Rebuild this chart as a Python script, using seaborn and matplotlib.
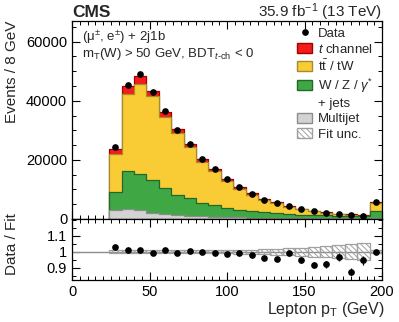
import numpy as np
import pandas as pd
import matplotlib
matplotlib.use("Agg")
import matplotlib.pyplot as plt
import seaborn as sns
from matplotlib.patches import Patch
from matplotlib.lines import Line2D
from matplotlib.ticker import MultipleLocator, FixedLocator, FormatStrFormatter

# -------------------------------------------------------------------------------------
# DATA (events per 8 GeV bin, last bin = overflow 192-200)
# -------------------------------------------------------------------------------------
EDGES = list(range(24, 201, 8))
CENTERS = np.array(EDGES[:-1]) + 4

MULTIJET = [2880, 3450, 2880, 1980, 1530, 1300, 1070, 850, 730, 620, 540,
            470, 410, 360, 310, 270, 240, 210, 190, 170, 150, 450]
WJETS = [6220, 12750, 12420, 11120, 8970, 6700, 5930, 4550, 3850, 3170, 2340,
         2180, 1790, 1620, 1330, 1140, 1060, 980, 880, 790, 700, 2200]
TTBAR = [12860, 26050, 30320, 28380, 24040, 20950, 17200, 14040, 11570, 9160, 7365,
         5630, 4260, 3425, 2475, 1820, 1375, 960, 590, 532, 293, 2770]
TCHAN = [1700, 2700, 2800, 1900, 1800, 1400, 1100, 1000, 850, 700, 580,
         470, 380, 320, 250, 200, 160, 130, 100, 85, 70, 250]
DATA = [24300, 45400, 48900, 42950, 36700, 30170, 25400, 20440, 16900, 13450, 10760,
        8550, 6580, 5450, 4320, 3250, 2600, 2100, 1700, 1380, 1150, 5650]
FIT_UNC = [0.009, 0.008, 0.008, 0.008, 0.008, 0.008, 0.009, 0.009, 0.010, 0.011, 0.012,
           0.014, 0.016, 0.018, 0.021, 0.025, 0.030, 0.036, 0.041, 0.047, 0.052, 0.010]

# (label, values, face, edge) from bottom to top of the stack
LAYERS = [
    ("Multijet", MULTIJET, "#d3d3d3", "#8c8c8c"),
    ("W / Z / $\\gamma^{*}$", WJETS, "#3fa845", "#22682a"),
    ("t$\\bar{\\mathrm{t}}$ / tW", TTBAR, "#f9cb35", "#a38c2c"),
    ("$t$ channel", TCHAN, "#f31c1c", "#a30000"),
]

# -------------------------------------------------------------------------------------
# STYLE
# -------------------------------------------------------------------------------------
sns.set_theme(style="ticks")
plt.rcParams["font.family"] = ["Liberation Sans", "DejaVu Sans"]
plt.rcParams.update({
    "mathtext.fontset": "custom",
    "mathtext.rm": "Liberation Sans",
    "mathtext.it": "Liberation Sans:italic",
    "mathtext.bf": "Liberation Sans:bold",
    "xtick.direction": "in", "ytick.direction": "in",
    "xtick.top": True, "ytick.right": True,
    "xtick.major.size": 6, "ytick.major.size": 6,
    "xtick.minor.size": 3, "ytick.minor.size": 3,
    "xtick.major.width": 0.8, "ytick.major.width": 0.8,
    "xtick.minor.width": 0.7, "ytick.minor.width": 0.7,
    "axes.linewidth": 0.9,
    "axes.edgecolor": "black",
    "xtick.color": "black", "ytick.color": "black",
    "hatch.linewidth": 0.7,
    "hatch.color": "#a0a0a0",
})

fig = plt.figure(figsize=(3.99, 3.22), dpi=100)
ax = fig.add_axes([0.1805, 0.3199, 0.777, 0.615])
rax = fig.add_axes([0.1805, 0.1304, 0.777, 0.189], sharex=ax)

# -------------------------------------------------------------------------------------
# MAIN PANEL: stacked fit templates (draw cumulative tops, largest first)
# -------------------------------------------------------------------------------------
stack = np.cumsum(np.array([l[1] for l in LAYERS], dtype=float), axis=0)
for i in range(len(LAYERS) - 1, -1, -1):
    _, _, face, edge = LAYERS[i]
    layer_df = pd.DataFrame({"pt": CENTERS, "events": stack[i]})
    sns.histplot(data=layer_df, x="pt", weights="events", bins=EDGES, element="step",
                 fill=True, color=face, edgecolor=edge, linewidth=0.9, alpha=1,
                 ax=ax, legend=False)

data = np.array(DATA, dtype=float)
total = stack[-1]
ax.errorbar(CENTERS, data, yerr=np.sqrt(data), fmt="o", color="black", ms=3.8,
            elinewidth=0.9, capsize=0, zorder=5)

ax.set_xlim(0, 200)
ax.set_ylim(0, 67000)
ax.xaxis.set_major_locator(MultipleLocator(50))
ax.xaxis.set_minor_locator(MultipleLocator(5))
ax.yaxis.set_major_locator(MultipleLocator(20000))
ax.yaxis.set_minor_locator(MultipleLocator(5000))
ax.tick_params(labelbottom=False, labelsize=10.5)
ax.set_xlabel("")
ax.set_ylabel("Events / 8 GeV", fontsize=11, loc="top")
ax.yaxis.set_label_coords(-0.171, 1.0)

ax.text(0.032, 0.962, "(μ$^{\\pm}$, e$^{\\pm}$) + 2j1b", transform=ax.transAxes,
        fontsize=9.5, va="top")
ax.text(0.032, 0.872, "m$_{\\mathrm{T}}$(W) > 50 GeV, BDT$_{t\\text{-ch}}$ < 0",
        transform=ax.transAxes, fontsize=9.5, va="top")

fig.text(0.1805, 1 - 17 / 322, "CMS", fontsize=12.5, fontweight="bold", va="baseline")
fig.text(0.957, 1 - 17 / 322, "35.9 fb$^{-1}$ (13 TeV)", fontsize=11,
         ha="right", va="baseline")

handles = [
    Line2D([], [], marker="o", color="black", ls="", ms=3.8),
    Patch(facecolor=LAYERS[3][2], edgecolor=LAYERS[3][3]),
    Patch(facecolor=LAYERS[2][2], edgecolor=LAYERS[2][3]),
    Patch(facecolor=LAYERS[1][2], edgecolor=LAYERS[1][3]),
    Patch(facecolor="none", edgecolor="none"),
    Patch(facecolor=LAYERS[0][2], edgecolor=LAYERS[0][3]),
    Patch(facecolor="white", edgecolor="#a0a0a0", hatch="\\\\\\\\\\\\"),
]
labels = ["Data", LAYERS[3][0], LAYERS[2][0], LAYERS[1][0], "+ jets",
          LAYERS[0][0], "Fit unc."]
ax.legend(handles, labels, loc="upper left", bbox_to_anchor=(0.726, 0.967),
          frameon=False, fontsize=9.5, borderpad=0, borderaxespad=0,
          handlelength=1.15, handleheight=0.8, handletextpad=0.42, labelspacing=0.2)

# -------------------------------------------------------------------------------------
# RATIO PANEL
# -------------------------------------------------------------------------------------
unc = np.array(FIT_UNC)
rax.axhline(1, color="#8c8c8c", lw=1, zorder=1)
rax.bar(CENTERS, 2 * unc, bottom=1 - unc, width=8, facecolor="none",
        edgecolor="#a0a0a0", hatch="\\\\\\\\\\\\", linewidth=0.9, zorder=2)
rax.errorbar(CENTERS, data / total, yerr=np.sqrt(data) / total, fmt="o",
             color="black", ms=3.8, elinewidth=0.9, capsize=0, zorder=5)

rax.set_ylim(0.823, 1.204)
rax.yaxis.set_major_locator(FixedLocator([0.9, 1.0, 1.1]))
rax.yaxis.set_major_formatter(FormatStrFormatter("%g"))
rax.yaxis.set_minor_locator(MultipleLocator(0.05))
rax.tick_params(labelsize=10.5)
rax.set_ylabel("Data / Fit", fontsize=11, loc="top")
rax.yaxis.set_label_coords(-0.171, 1.1)
rax.set_xlabel("Lepton p$_{\\mathrm{T}}$ (GeV)", fontsize=11.5, loc="right")
rax.xaxis.set_label_coords(1.01, -0.33)

fig.savefig("out.png", dpi=100)
